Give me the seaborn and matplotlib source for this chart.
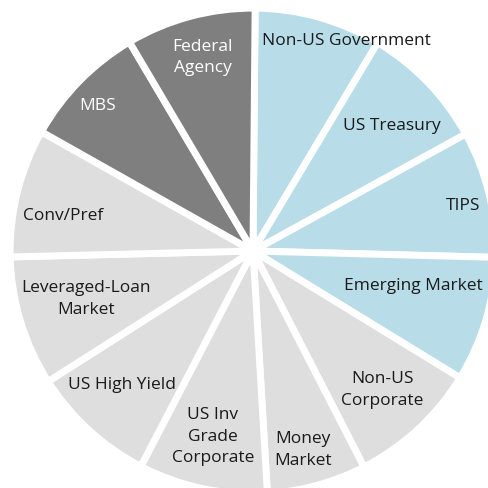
import matplotlib
matplotlib.use("Agg")
import matplotlib.pyplot as plt
import seaborn as sns

# slices clockwise from 12 o'clock
sectors = ["Non-US Government", "US Treasury", "TIPS", "Emerging Market",
           "Non-US Corporate", "Money Market", "US Inv Grade Corporate",
           "US High Yield", "Leveraged-Loan Market", "Conv/Pref", "MBS",
           "Federal Agency"]
labels = ["Non-US Government", "US Treasury", "TIPS", "Emerging Market",
          "Non-US\nCorporate", "Money\nMarket", "US Inv\nGrade\nCorporate",
          "US High Yield", "Leveraged-Loan\nMarket", "Conv/Pref", "MBS",
          "Federal\nAgency"]
spans = [30.4, 30.3, 30.3, 30.0, 31.3, 23.8, 30.9, 30.0, 31.1, 30.8, 30.0, 31.1]
groups = ["gov", "gov", "gov", "gov", "credit", "credit", "credit", "credit",
          "credit", "credit", "agency", "agency"]

group_colors = {"gov": "#b8dde8", "credit": "#dedede", "agency": "#7f7f7f"}
text_colors = {"gov": "#1a1a1a", "credit": "#1a1a1a", "agency": "white"}

# label anchor points in pie-radius units
label_pos = [(0.39, 0.88), (0.58, 0.525), (0.875, 0.19), (0.67, -0.14),
             (0.54, -0.575), (0.21, -0.825), (-0.167, -0.77), (-0.546, -0.554),
             (-0.696, -0.196), (-0.79, 0.15), (-0.646, 0.61), (-0.21, 0.81)]

sns.set_style("white")
plt.rcParams['font.family'] = ['Open Sans', 'DejaVu Sans']

fig = plt.figure(figsize=(4.88, 4.89), dpi=100)
ax = fig.add_axes([0, 0, 1, 1])

colors = [group_colors[g] for g in groups]
ax.pie(spans, colors=colors, startangle=89.5, counterclock=False, radius=1.012,
       wedgeprops=dict(edgecolor="white", linewidth=5))

for lab, (x, y), g in zip(labels, label_pos, groups):
    ax.text(x, y, lab, ha="center", va="center", fontsize=12.5,
            color=text_colors[g], linespacing=1.45)

ax.set_aspect("auto")
ax.set_xlim(-253 / 240, 235 / 240)
ax.set_ylim(-237 / 240, 252 / 240)
ax.axis("off")

fig.savefig("out.png", dpi=100)
plt.close(fig)
